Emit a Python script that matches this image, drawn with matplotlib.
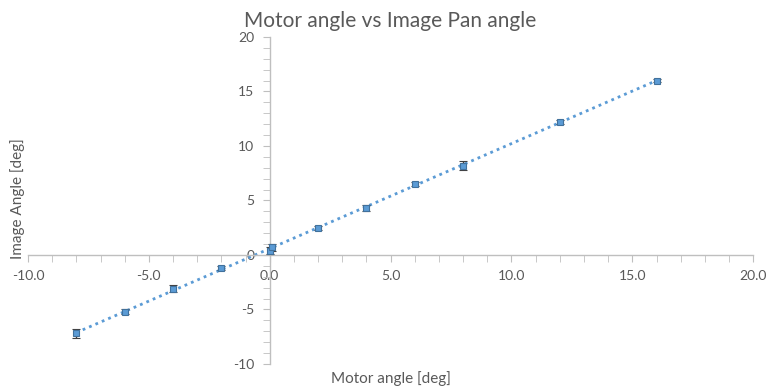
import numpy as np
import matplotlib
matplotlib.use("Agg")
import matplotlib.pyplot as plt
from matplotlib.ticker import MultipleLocator, FormatStrFormatter

motor_angle = [-8, -6, -4, -2, 0.0, 0.1, 2, 4, 6, 8, 12, 16]
image_angle = [-7.2, -5.2, -3.1, -1.2, 0.4, 0.7, 2.5, 4.3, 6.5, 8.2, 12.2, 16.0]
image_err = [0.4, 0.25, 0.3, 0.2, 0.3, 0.3, 0.2, 0.25, 0.2, 0.4, 0.15, 0.15]

plt.rcParams['font.family'] = ['Lato', 'DejaVu Sans']
grey = '#595959'
spine_c = '#BFBFBF'
blue = '#5B9BD5'

fig = plt.figure(figsize=(7.67, 3.89), dpi=100)
ax = fig.add_axes([0.0365, 0.0643, 0.9455, 0.8407])

# trendline
coef = np.polyfit(motor_angle, image_angle, 1)
xs = np.array([min(motor_angle), max(motor_angle)])
ax.plot(xs, np.polyval(coef, xs), linestyle=(0, (1, 1.5)), color=blue, lw=2, zorder=2)

ax.errorbar(motor_angle, image_angle, yerr=image_err, fmt='s', ms=5,
            mfc=blue, mec='#41719C', mew=0.8, ecolor='#404040', elinewidth=1,
            capsize=3, capthick=1.2, zorder=3)

ax.set_xlim(-10, 20)
ax.set_ylim(-10, 20)
ax.spines['left'].set_position(('data', 0))
ax.spines['bottom'].set_position(('data', 0))
ax.spines['right'].set_visible(False)
ax.spines['top'].set_visible(False)
for s in ('left', 'bottom'):
    ax.spines[s].set_color(spine_c)
    ax.spines[s].set_linewidth(1)

ax.xaxis.set_major_locator(MultipleLocator(5))
ax.xaxis.set_minor_locator(MultipleLocator(1))
ax.yaxis.set_major_locator(MultipleLocator(5))
ax.yaxis.set_minor_locator(MultipleLocator(1))
ax.xaxis.set_major_formatter(FormatStrFormatter('%.1f'))
ax.yaxis.set_major_formatter(FormatStrFormatter('%d'))
ax.tick_params(axis='both', which='both', color=spine_c, labelcolor=grey, labelsize=10)
ax.tick_params(axis='x', which='both', direction='out', length=5, pad=6)
ax.tick_params(axis='y', which='both', direction='out', length=5, pad=6)

fig.text(0.509, 0.972, 'Motor angle vs Image Pan angle', ha='center', va='top',
         fontsize=15, color=grey)
fig.text(0.51, 0.028, 'Motor angle [deg]', ha='center', va='center',
         fontsize=11, color=grey)
fig.text(0.023, 0.49, 'Image Angle [deg]', ha='center', va='center',
         rotation=90, fontsize=11, color=grey)

fig.savefig('out.png', dpi=100)
